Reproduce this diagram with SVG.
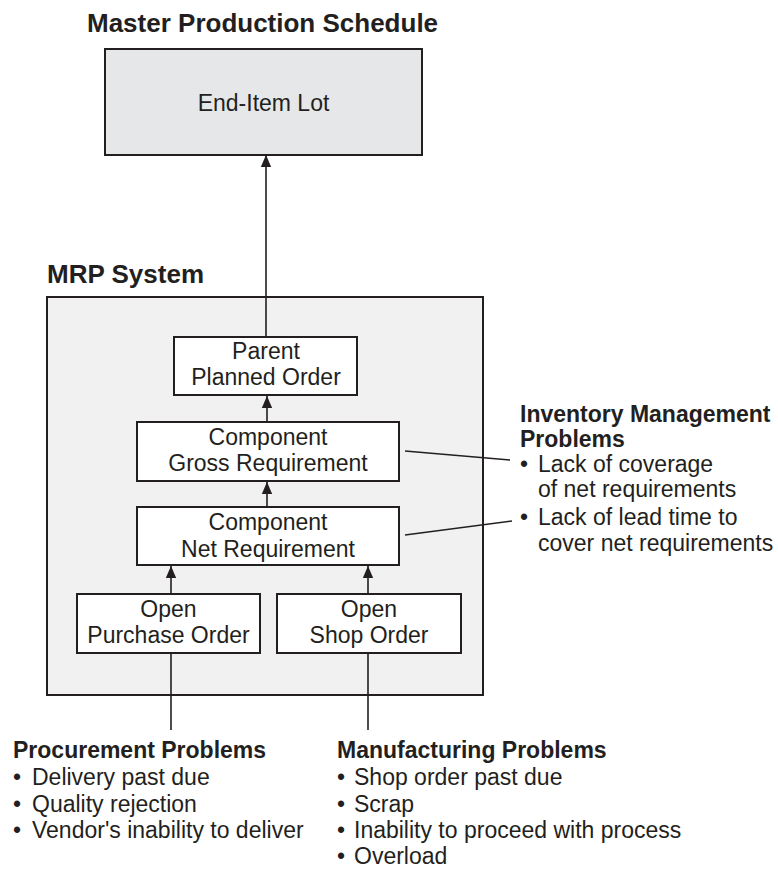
<svg xmlns="http://www.w3.org/2000/svg" width="778" height="869" viewBox="0 0 778 869">
<style>
text{font-family:"Liberation Sans",Arial,sans-serif;fill:#231f20;font-size:23px}
.h{font-weight:bold}
.t{font-weight:bold;font-size:26px}
.c{text-anchor:middle}
.box{fill:#fff;stroke:#231f20;stroke-width:2}
.ln{stroke:#231f20;stroke-width:1.6;fill:none}
</style>
<defs>
<marker id="ah" markerUnits="userSpaceOnUse" markerWidth="12" markerHeight="12" viewBox="0 0 12 12" refX="12" refY="6" orient="auto">
<path d="M0,0.8 L12,6 L0,11.2 Z" fill="#231f20"/>
</marker>
</defs>
<rect width="778" height="869" fill="#fff"/>
<g id="mps">
<text class="t" x="87" y="32">Master Production Schedule</text>
<rect x="105" y="49" width="317" height="106" fill="#e6e7e8" stroke="#231f20" stroke-width="2"/>
<text class="c" x="263.5" y="111">End-Item Lot</text>
</g>
<g id="mrp">
<text class="t" x="47" y="283">MRP System</text>
<rect x="47" y="297" width="436" height="398" fill="#f1f1f1" stroke="#231f20" stroke-width="2"/>
</g>
<g id="parent">
<rect class="box" x="174" y="337" width="183" height="58"/>
<text class="c" x="266" y="359">Parent</text>
<text class="c" x="266" y="385">Planned Order</text>
</g>
<g id="gross">
<rect class="box" x="137" y="422" width="262" height="59"/>
<text class="c" x="268" y="445">Component</text>
<text class="c" x="268" y="471">Gross Requirement</text>
</g>
<g id="net">
<rect class="box" x="137" y="507" width="262" height="58"/>
<text class="c" x="268" y="530">Component</text>
<text class="c" x="268" y="557">Net Requirement</text>
</g>
<g id="purchase">
<rect class="box" x="77" y="594" width="183" height="59"/>
<text class="c" x="168.5" y="617">Open</text>
<text class="c" x="168.5" y="643">Purchase Order</text>
</g>
<g id="shop">
<rect class="box" x="277" y="594" width="184" height="59"/>
<text class="c" x="369" y="617">Open</text>
<text class="c" x="369" y="643">Shop Order</text>
</g>
<g id="inventory">
<text class="h" x="520" y="422">Inventory Management</text>
<text class="h" x="520" y="447">Problems</text>
<text x="520" y="472">•</text><text x="538" y="472">Lack of coverage</text>
<text x="538" y="497">of net requirements</text>
<text x="520" y="525">•</text><text x="538" y="525">Lack of lead time to</text>
<text x="538" y="551">cover net requirements</text>
</g>
<g id="procurement">
<text class="h" x="13" y="758">Procurement Problems</text>
<text x="13" y="785">•</text><text x="32" y="785">Delivery past due</text>
<text x="13" y="812">•</text><text x="32" y="812">Quality rejection</text>
<text x="13" y="838">•</text><text x="32" y="838">Vendor's inability to deliver</text>
</g>
<g id="manufacturing">
<text class="h" x="337" y="758">Manufacturing Problems</text>
<text x="337" y="785">•</text><text x="354" y="785">Shop order past due</text>
<text x="337" y="812">•</text><text x="354" y="812">Scrap</text>
<text x="337" y="838">•</text><text x="354" y="838">Inability to proceed with process</text>
<text x="337" y="864">•</text><text x="354" y="864">Overload</text>
</g>
<g id="connectors">
<line class="ln" x1="266" y1="337" x2="266" y2="155" marker-end="url(#ah)"/>
<line class="ln" x1="267" y1="422" x2="267" y2="396" marker-end="url(#ah)"/>
<line class="ln" x1="267" y1="507" x2="267" y2="482" marker-end="url(#ah)"/>
<line class="ln" x1="171" y1="594" x2="171" y2="566" marker-end="url(#ah)"/>
<line class="ln" x1="368" y1="594" x2="368" y2="566" marker-end="url(#ah)"/>
<line class="ln" x1="171" y1="653" x2="171" y2="730"/>
<line class="ln" x1="368" y1="653" x2="368" y2="730"/>
<line class="ln" x1="405" y1="451" x2="510" y2="460"/>
<line class="ln" x1="405" y1="535" x2="512" y2="521"/>
</g>
</svg>
